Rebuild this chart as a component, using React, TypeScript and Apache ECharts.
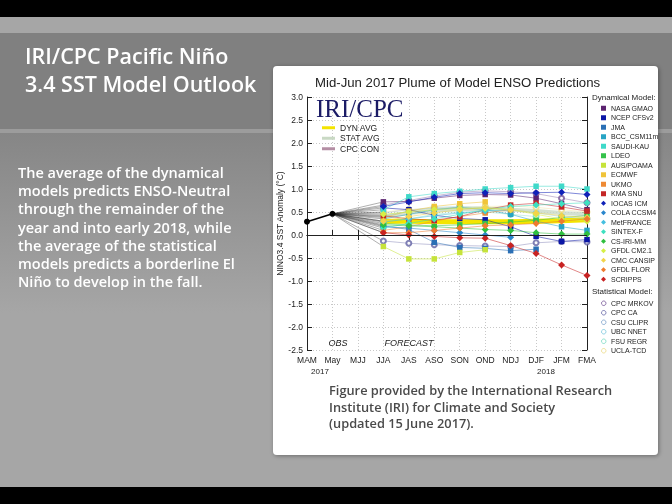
import React, { useEffect, useRef } from 'react';
import * as echarts from 'echarts';

// ---------- data ----------
const seasons = ['MAM', 'May', 'MJJ', 'JJA', 'JAS', 'ASO', 'SON', 'OND', 'NDJ', 'DJF', 'JFM', 'FMA'];
const observed = [0.29, 0.46]; // MAM, May
const forecastStart = 3; // JJA
const yMin = -2.5;
const yMax = 3.0;
const yStep = 0.5;

const dynNames = [
  'NASA GMAO', 'NCEP CFSv2', 'JMA', 'BCC_CSM11m', 'SAUDI-KAU', 'LDEO', 'AUS/POAMA', 'ECMWF', 'UKMO', 'KMA SNU',
  'IOCAS ICM', 'COLA CCSM4', 'MetFRANCE', 'SINTEX-F', 'CS-IRI-MM', 'GFDL CM2.1', 'CMC CANSIP', 'GFDL FLOR', 'SCRIPPS',
];
// values JJA .. FMA
const dynForecasts: (number | null)[][] = [
  [0.72, 0.73, 0.8, 0.86, 0.88, 0.87, 0.8, 0.68, 0.55],
  [0.59, 0.55, 0.43, 0.36, 0.33, 0.18, -0.03, -0.14, -0.1],
  [0.2, 0.12, -0.16, -0.27, -0.29, -0.34, -0.31, null, null],
  [0.35, 0.45, 0.55, 0.6, 0.55, 0.45, 0.3, 0.18, 0.1],
  [0.55, 0.83, 0.9, 0.95, 1.0, 1.03, 1.06, 1.06, 1.0],
  [0.25, 0.22, 0.2, 0.22, 0.25, 0.28, 0.32, 0.38, 0.42],
  [-0.25, -0.52, -0.52, -0.38, -0.32, null, null, null, null],
  [0.38, 0.52, 0.62, 0.68, 0.72, null, null, null, null],
  [0.1, 0.18, 0.3, 0.4, 0.48, 0.55, null, null, null],
  [0.42, 0.35, 0.32, 0.4, 0.55, 0.65, 0.69, 0.61, 0.52],
  [0.62, 0.72, 0.82, 0.9, 0.92, 0.9, 0.92, 0.93, 0.88],
  [0.18, 0.15, 0.1, 0.05, 0.0, -0.05, null, null, null],
  [0.28, 0.35, 0.42, 0.48, 0.52, 0.55, null, null, null],
  [0.15, 0.25, 0.35, 0.45, 0.55, 0.62, 0.65, 0.68, 0.7],
  [0.22, 0.2, 0.18, 0.15, 0.12, 0.1, 0.05, 0.02, 0.02],
  [0.45, 0.5, 0.55, 0.58, 0.58, 0.55, 0.45, 0.35, 0.3],
  [0.3, 0.4, 0.48, 0.55, 0.6, 0.55, 0.48, 0.42, 0.38],
  [0.05, 0.05, 0.1, 0.15, 0.2, 0.22, 0.25, 0.3, 0.35],
  [0.05, 0.0, -0.03, -0.06, -0.07, -0.23, -0.4, -0.65, -0.88],
];

const statNames = ['CPC MRKOV', 'CPC CA', 'CSU CLIPR', 'UBC NNET', 'FSU REGR', 'UCLA-TCD'];
const statForecasts: (number | null)[][] = [
  [0.65, 0.75, 0.85, 0.93, 0.96, 0.94, 0.9, 0.8, 0.7],
  [-0.13, -0.18, -0.21, -0.23, -0.24, -0.25, -0.17, -0.14, -0.15],
  [0.48, 0.55, 0.58, 0.6, null, null, null, null, null],
  [0.4, 0.52, 0.6, 0.62, 0.6, 0.55, 0.48, 0.4, 0.35],
  [0.3, 0.35, 0.45, 0.5, 0.5, 0.45, 0.4, null, null],
  [0.5, 0.55, 0.58, 0.6, 0.62, 0.63, 0.6, 0.55, 0.5],
];

const dynAvg = [0.3, 0.3, 0.29, 0.29, 0.29, 0.29, 0.3, 0.31, 0.33];
const statAvg = [0.4, 0.48, 0.53, 0.56, 0.57, 0.55, 0.52, 0.48, 0.45];

const yearLabels = ['2017', '2018'];
const phaseLabels = ['OBS', 'FORECAST'];

// ---------- styles ----------
const dynColors = [
  '#5c2370', '#0b16a6', '#2a6fb5', '#27a4c4', '#3fd9c9', '#34c24b', '#c6e33a', '#f0c43a', '#ee8a35', '#c42626',
  '#1022b8', '#2a86cc', '#45bfe0', '#3ee0c0', '#2fbf3f', '#d6ef45', '#f2d44a', '#ef7b2e', '#c82222',
];
const dynSymbols = dynNames.map((_, i) => (i < 10 ? 'rect' : 'diamond'));
const statColors = ['#7a5a9a', '#6a6aa8', '#7fa3cc', '#7cc8de', '#7ddcc6', '#ecdc8a'];

const chartFont = 'Liberation Sans, Arial, sans-serif';
const slideFont = 'Open Sans, DejaVu Sans, sans-serif';

const pad = (vals: (number | null)[]) =>
  seasons.map((_, i) => (i < forecastStart ? null : vals[i - forecastStart] ?? null));
const connector = (vals: (number | null)[]) =>
  seasons.map((_, i) => (i === observed.length - 1 ? observed[observed.length - 1] : i === forecastStart ? vals[0] : null));

export default function App() {
  const ref = useRef<HTMLDivElement>(null);

  useEffect(() => {
    if (!ref.current) return;
    const chart = echarts.init(ref.current, undefined, { renderer: 'svg' });

    const all = [
      ...dynForecasts.map((v, i) => ({ v, name: dynNames[i], color: dynColors[i], kind: dynSymbols[i] })),
      ...statForecasts.map((v, i) => ({ v, name: statNames[i], color: statColors[i], kind: 'emptyCircle' })),
    ];

    const connectorSeries = all.map((m) => ({
      type: 'line',
      name: 'conn-' + m.name,
      data: connector(m.v),
      connectNulls: true,
      symbol: 'none',
      silent: true,
      z: 1,
      lineStyle: { color: '#222', width: 0.6, opacity: 0.6 },
    }));

    const modelSeries = all.map((m) => ({
      type: 'line',
      name: m.name,
      data: pad(m.v),
      symbol: m.kind,
      symbolSize: m.kind === 'diamond' ? 7 : m.kind === 'rect' ? 5.5 : 5,
      z: m.kind === 'emptyCircle' ? 3 : 4,
      lineStyle: { color: m.color, width: 0.9, opacity: m.kind === 'emptyCircle' ? 0.45 : 0.6 },
      itemStyle: m.kind === 'emptyCircle'
        ? { color: m.color, borderColor: m.color, borderWidth: 1, opacity: 0.85 }
        : { color: m.color },
    }));

    const option: any = {
      animation: false,
      title: {
        text: 'Mid-Jun 2017 Plume of Model ENSO Predictions',
        left: 310,
        top: 71,
        textStyle: { fontFamily: chartFont, fontSize: 13.2, fontWeight: 'normal', color: '#222' },
      },
      grid: { left: 307, top: 97, width: 280, height: 253, containLabel: false },
      xAxis: [
        {
          type: 'category',
          data: seasons,
          boundaryGap: false,
          axisLine: { lineStyle: { color: '#222', width: 1 } },
          axisTick: { inside: true, length: 5, lineStyle: { color: '#222' } },
          axisLabel: { fontFamily: chartFont, fontSize: 8.5, color: '#222', margin: 5, interval: 0 },
          splitLine: { show: true, lineStyle: { color: '#c8c8c8', type: [1, 2], width: 1 } },
        },
        {
          type: 'category',
          data: seasons,
          position: 'top',
          boundaryGap: false,
          axisLine: { lineStyle: { color: '#222', width: 1 } },
          axisTick: { inside: true, length: 5, lineStyle: { color: '#222' } },
          axisLabel: { show: false },
        },
      ],
      yAxis: [
        {
          type: 'value',
          min: yMin,
          max: yMax,
          interval: yStep,
          name: 'NINO3.4 SST Anomaly (\u00B0C)',
          nameLocation: 'middle',
          nameGap: 23,
          nameRotate: 90,
          nameTextStyle: { fontFamily: chartFont, fontSize: 8.5, color: '#222' },
          axisLine: { show: true, lineStyle: { color: '#222', width: 1 } },
          axisTick: { show: true, inside: true, length: 5, lineStyle: { color: '#222' } },
          axisLabel: { fontFamily: chartFont, fontSize: 8.5, color: '#222', margin: 4, formatter: (v: number) => v.toFixed(1) },
          splitLine: { show: true, lineStyle: { color: '#c8c8c8', type: [1, 2], width: 1 } },
        },
        {
          type: 'value',
          min: yMin,
          max: yMax,
          interval: yStep,
          position: 'right',
          axisLine: { show: true, lineStyle: { color: '#222', width: 1 } },
          axisTick: { show: true, inside: true, length: 5, lineStyle: { color: '#222' } },
          axisLabel: { show: false },
          splitLine: { show: false },
        },
      ],
      legend: [
        {
          orient: 'vertical',
          left: 596,
          top: 98.5,
          itemWidth: 5,
          itemHeight: 5,
          itemGap: 0,
          selectedMode: false,
          textStyle: { fontFamily: chartFont, fontSize: 7, color: '#222', lineHeight: 9.5 },
          data: dynNames.map((n, i) => ({ name: n, icon: dynSymbols[i] })),
        },
        {
          orient: 'vertical',
          left: 596,
          top: 293.5,
          itemWidth: 4.5,
          itemHeight: 4.5,
          itemGap: 0,
          selectedMode: false,
          textStyle: { fontFamily: chartFont, fontSize: 7, color: '#222', lineHeight: 9.5 },
          data: statNames.map((n, i) => ({
            name: n,
            icon: 'circle',
            itemStyle: { color: '#fff', borderColor: statColors[i], borderWidth: 1 },
          })),
        },
        {
          orient: 'vertical',
          left: 317,
          top: 117.5,
          itemWidth: 13,
          itemHeight: 3,
          itemGap: 0,
          selectedMode: false,
          textStyle: { fontFamily: chartFont, fontSize: 8.5, color: '#222', lineHeight: 10.5 },
          data: [
            { name: 'DYN AVG', icon: 'rect' },
            { name: 'STAT AVG', icon: 'rect' },
            { name: 'CPC CON', icon: 'rect' },
          ],
        },
      ],
      series: [
        ...connectorSeries,
        {
          type: 'line',
          name: 'DYN AVG',
          data: pad(dynAvg),
          symbol: 'none',
          z: 3,
          lineStyle: { color: '#f4e400', width: 5 },
          itemStyle: { color: '#f4e400' },
        },
        {
          type: 'line',
          name: 'STAT AVG',
          data: pad(statAvg),
          symbol: 'none',
          z: 3,
          lineStyle: { color: '#c9d9c4', width: 4, opacity: 0.8 },
          itemStyle: { color: '#c9d9c4' },
        },
        {
          type: 'line',
          name: 'CPC CON',
          data: [],
          symbol: 'none',
          lineStyle: { color: '#b48ea4', width: 1.5 },
          itemStyle: { color: '#b48ea4' },
        },
        ...modelSeries,
        {
          type: 'line',
          name: 'Observed',
          data: seasons.map((_, i) => (i < observed.length ? observed[i] : null)),
          symbol: 'circle',
          symbolSize: 6,
          z: 6,
          lineStyle: { color: '#000', width: 1.6 },
          itemStyle: { color: '#000' },
          markLine: {
            silent: true,
            symbol: 'none',
            label: { show: false },
            lineStyle: { color: '#222', type: 'solid', width: 1.2 },
            data: [{ yAxis: 0 }],
          },
        },
      ],
      graphic: [
        // slide background
        { type: 'rect', z: -20, shape: { x: 0, y: 0, width: 672, height: 504 }, style: { fill: '#a6a6a6' } },
        { type: 'rect', z: -19, shape: { x: 0, y: 33, width: 672, height: 96 }, style: { fill: '#808080' } },
        { type: 'rect', z: -19, shape: { x: 0, y: 129, width: 672, height: 4 }, style: { fill: '#9c9c9c' } },
        {
          type: 'rect', z: -19, shape: { x: 0, y: 133, width: 672, height: 180 },
          style: {
            fill: new echarts.graphic.LinearGradient(0, 0, 0, 1, [
              { offset: 0, color: '#868686' },
              { offset: 1, color: '#a6a6a6' },
            ]),
          },
        },
        { type: 'rect', z: -19, shape: { x: 0, y: 0, width: 672, height: 17 }, style: { fill: '#000' } },
        { type: 'rect', z: -19, shape: { x: 0, y: 487, width: 672, height: 17 }, style: { fill: '#000' } },
        {
          type: 'rect', z: -18, shape: { x: 273, y: 66, width: 385, height: 389, r: 4 },
          style: { fill: '#ffffff', shadowBlur: 4, shadowColor: 'rgba(0,0,0,0.35)', shadowOffsetX: 1, shadowOffsetY: 1 },
        },
        // slide texts
        {
          type: 'text', z: 50, left: 25, top: 41,
          style: {
            text: 'IRI/CPC Pacific Ni\u00F1o\n3.4 SST Model Outlook',
            fill: '#ffffff', font: `600 21.5px ${slideFont}`, lineHeight: 28,
          },
        },
        {
          type: 'text', z: 50, left: 18, top: 163,
          style: {
            text: 'The average of the dynamical\nmodels predicts ENSO-Neutral\nthrough the remainder of the\nyear and into early 2018, while\nthe average of the statistical\nmodels predicts a borderline El\nNi\u00F1o to develop in the fall.',
            fill: '#ffffff', font: `600 14.5px ${slideFont}`, lineHeight: 18.3,
          },
        },
        {
          type: 'text', z: 50, left: 329, top: 382,
          style: {
            text: 'Figure provided by the International Research\nInstitute (IRI) for Climate and Society\n(updated 15 June 2017).',
            fill: '#4a4a4a', font: `600 12.8px ${slideFont}`, lineHeight: 16.5,
          },
        },
        // chart annotations
        {
          type: 'text', z: 50, left: 316, top: 96,
          style: { text: 'IRI/CPC', fill: '#1b1b66', font: `25px Liberation Serif, Times New Roman, serif` },
        },
        {
          type: 'text', z: 50, left: 592, top: 93,
          style: { text: 'Dynamical Model:', fill: '#222', font: `8px ${chartFont}` },
        },
        {
          type: 'text', z: 50, left: 592, top: 287,
          style: { text: 'Statistical Model:', fill: '#222', font: `8px ${chartFont}` },
        },
        {
          type: 'text', z: 50, x: 338, y: 343,
          style: { text: phaseLabels[0], fill: '#222', font: `italic 9px ${chartFont}`, align: 'center', verticalAlign: 'middle' },
        },
        {
          type: 'text', z: 50, x: 409, y: 343,
          style: { text: phaseLabels[1], fill: '#222', font: `italic 9px ${chartFont}`, align: 'center', verticalAlign: 'middle' },
        },
        {
          type: 'text', z: 50, x: 320, y: 371,
          style: { text: yearLabels[0], fill: '#222', font: `8px ${chartFont}`, align: 'center', verticalAlign: 'middle' },
        },
        {
          type: 'text', z: 50, x: 546, y: 371,
          style: { text: yearLabels[1], fill: '#222', font: `8px ${chartFont}`, align: 'center', verticalAlign: 'middle' },
        },
      ],
    };

    chart.setOption(option);
    return () => chart.dispose();
  }, []);

  return <div ref={ref} style={{ position: 'fixed', left: 0, top: 0, width: 672, height: 504 }} />;
}
